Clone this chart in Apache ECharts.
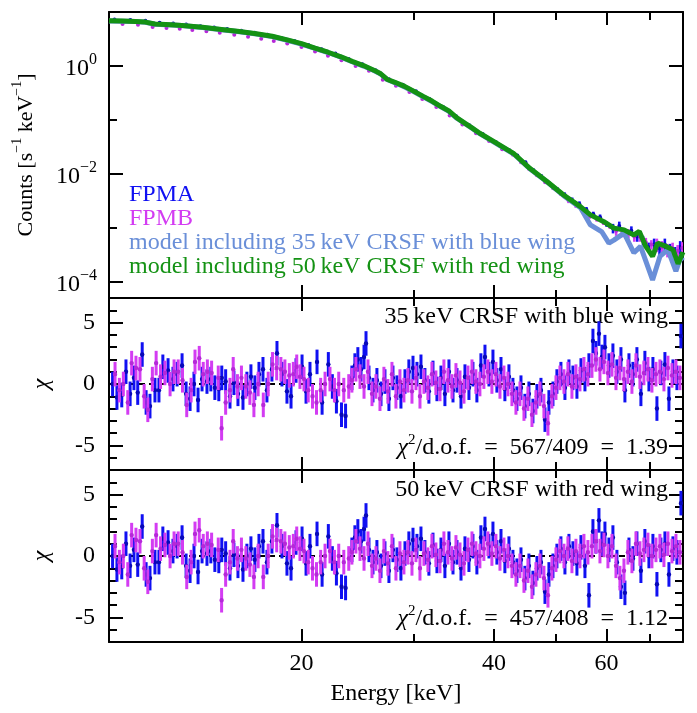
<!DOCTYPE html>
<html><head><meta charset="utf-8">
<script src="https://cdn.jsdelivr.net/npm/echarts@6/dist/echarts.min.js"></script>
<style>html,body{margin:0;padding:0;background:#fff}#c{width:697px;height:713px}</style>
</head><body><div id="c"></div>
<script>
// ---------------- data ----------------
const energyA = [10.13,10.29,10.47,10.63,10.79,10.94,11.09,11.27,11.43,11.59,11.80,11.97,12.14,12.37,12.59,12.78,13.01,13.20,13.39,13.58,13.78,13.98,14.23,14.43,14.64,14.85,15.01,15.22,15.46,15.68,15.91,16.20,16.43,16.67,16.91,17.16,17.41,17.66,17.98,18.31,18.64,18.98,19.26,19.61,20.04,20.33,20.62,21.15,21.54,22.03,22.35,22.68,23.10,23.44,
 23.98,24.24,24.50,24.78,25.05,25.23,25.50,25.87,26.24,26.63,27.01,27.40,27.80,28.20,28.61,29.03,29.44,29.88,30.31,30.75,31.19,31.64,32.11,32.57,33.05,33.52,34.01,34.51,35.01,35.52,36.03,36.55,37.08,37.61,38.16,38.72,39.28,39.85,40.42,41.02,41.60,42.21,42.82,43.44,44.08,44.71,45.36,46.02,46.69,47.37,48.06,48.75,49.46,50.17,50.90,51.64,52.39,53.15,53.92,54.71,55.50,56.30,57.12,57.74,58.37,59.00,59.64,60.51,61.38,62.27,63.18,64.09,65.03,65.97,66.92,67.89,68.87,69.88,70.89,71.92,72.96,74.02,75.10,76.19,77.29,78.41];
const residA35 = [0,-1.1,-0.9,1.0,-0.8,0.5,-0.7,2.4,-1.5,-1.8,-0.5,-0.5,1.4,1.1,0.4,0.8,1.5,-0.8,-1.2,0,-1.3,0.4,0.2,0.4,-0.3,-0.4,0.5,0.2,-1.0,0.1,-0.8,-1.1,0,0.6,-0.3,0.8,1.2,-0.5,1.2,2.5,0.8,-0.6,-1.0,1.1,1.4,-0.6,0.8,1.8,-1.5,1.6,-0.2,-1.4,-2.5,-2.6,
 0.5,1.5,2.0,1.2,2.2,3.3,0.5,-0.5,0.3,-0.8,0.2,-1.2,0.5,-0.3,-1.0,0.2,1.0,1.3,0.8,1.4,0.3,-0.6,0.9,-0.4,0.5,-0.8,1.0,-0.5,0.3,-1.0,0.6,-0.3,0.8,-0.5,1.5,2.2,0.8,1.8,0.3,1.2,-0.4,0.6,-0.5,-1.2,-0.3,-1.8,-0.8,-2.2,-1.0,-0.5,-2.9,-1.5,-0.8,0.2,0.8,-0.3,1.0,0.5,-0.2,1.1,0.4,1.5,3.5,2.5,4.1,2.2,3.0,1.5,2.3,1.0,2.0,-0.5,1.5,0.8,2.0,-0.8,1.7,0.4,1.2,-2.0,0.9,1.6,-1.2,1.0,0.5,3.9];
const residA50 = [0,-1.1,-0.9,1.0,-0.8,0.5,-0.7,2.4,-1.5,-1.8,-0.5,-0.5,1.4,1.1,0.4,0.8,1.5,-0.8,-1.2,0,-1.3,0.4,0.2,0.4,-0.3,-0.4,0.5,0.2,-1.0,0.1,-0.8,-1.1,0,0.6,-0.3,0.8,1.2,-0.5,1.2,2.5,0.8,-0.6,-1.0,1.1,1.4,-0.6,0.8,1.8,-1.5,1.6,-0.2,-1.4,-2.5,-2.6,
 0.5,1.5,2.0,1.2,2.2,3.3,0.5,-0.5,0.3,-0.8,0.2,-1.2,0.5,-0.3,-1.0,0.2,1.0,1.3,0.8,1.4,0.3,-0.6,0.9,-0.4,0.5,-0.8,1.0,-0.5,0.3,-1.0,0.6,-0.3,0.8,-0.5,1.5,2.2,0.8,1.8,0.3,1.2,-0.4,0.6,-0.5,-1.2,-0.3,-1.8,-0.8,-2.2,-1.0,-0.5,-2.9,-1.5,-0.8,0.0,0.6,-0.5,0.8,0.2,-0.6,0.7,-0.8,-3.2,2.0,1.2,2.9,1.0,1.8,0.5,1.5,-0.5,-2.5,-3.0,0.5,-0.2,1.0,-1.2,1.2,0.0,0.8,-2.3,0.5,1.0,-1.5,0.6,0.3,4.3];
const energyB = [10.22,10.38,10.53,10.70,10.85,11.02,11.18,11.35,11.50,11.69,11.85,12.04,12.23,12.46,12.64,12.83,13.03,13.23,13.44,13.63,13.84,14.04,14.25,14.47,14.82,15.00,15.22,15.46,15.64,15.88,16.11,16.37,16.61,16.85,17.11,17.43,17.74,18.02,18.29,18.57,18.84,19.14,19.42,19.66,19.89,20.18,20.49,20.81,21.11,21.43,21.77,22.16,22.52,22.87,23.29,23.71,
 23.98,24.33,24.69,25.05,25.41,25.78,26.15,26.53,26.91,27.30,27.70,28.10,28.51,28.92,29.34,29.77,30.20,30.64,31.08,31.53,31.99,32.45,32.93,33.40,33.89,34.38,34.88,35.39,35.90,36.42,36.95,37.48,38.02,38.57,39.13,39.70,40.28,40.87,41.46,42.06,42.67,43.29,43.92,44.56,45.20,45.86,46.52,47.20,47.88,48.58,49.28,50.00,50.72,51.46,52.20,52.96,53.73,54.51,55.30,56.10,56.92,57.74,58.58,59.43,60.29,61.17,62.06,62.95,63.87,64.79,65.73,66.69,67.65,68.63,69.63,70.64,71.67,72.70,73.76,74.83,75.92,77.02,78.13];
const residB35 = [0.8,-0.5,0,-1.5,1.7,1.3,1.2,-1.0,-2.1,0.4,1.7,0.6,0.9,0,1.0,1.0,0.3,-1.7,-0.5,1.8,2.1,0.8,1.0,0.9,0.5,-3.6,-1.5,-0.5,1.2,-0.2,0.5,-0.2,-0.7,-1.7,0,-1.7,0,1.6,1.3,1.2,1.0,0.7,0.8,1.4,0.6,0.4,-0.5,-1.0,-1.5,-0.5,0,0.4,-0.5,0,-0.5,-0.2,
 0.3,1.2,0.6,-0.2,1.0,-0.8,-0.2,-1.2,0.4,-0.6,0.8,-1.0,0.2,-0.5,0.3,-0.6,0.5,-1.0,0.2,-0.3,0.8,0.1,-0.4,1.0,0.3,-0.2,0.7,0.1,-0.6,0.5,1.0,0.2,0.0,0.6,1.0,0.2,0.8,-0.2,0.5,0.0,-0.8,-1.5,-0.8,-2.0,-1.2,-2.5,-1.5,-0.8,-1.8,-3.2,-1.0,
 -0.3,0.5,0.2,0.8,-0.2,0.6,0.4,1.2,0.8,1.5,2.0,1.2,1.8,0.9,1.6,0.5,1.3,0.4,1.0,0.2,1.5,0.6,0.9,1.2,0.3,0.8,1.0,0.4,1.3,0.7,1.0,0.5];
const residB50 = [0.8,-0.5,0,-1.5,1.7,1.3,1.2,-1.0,-2.1,0.4,1.7,0.6,0.9,0,1.0,1.0,0.3,-1.7,-0.5,1.8,2.1,0.8,1.0,0.9,0.5,-3.6,-1.5,-0.5,1.2,-0.2,0.5,-0.2,-0.7,-1.7,0,-1.7,0,1.6,1.3,1.2,1.0,0.7,0.8,1.4,0.6,0.4,-0.5,-1.0,-1.5,-0.5,0,0.4,-0.5,0,-0.5,-0.2,
 0.3,1.2,0.6,-0.2,1.0,-0.8,-0.2,-1.2,0.4,-0.6,0.8,-1.0,0.2,-0.5,0.3,-0.6,0.5,-1.0,0.2,-0.3,0.8,0.1,-0.4,1.0,0.3,-0.2,0.7,0.1,-0.6,0.5,1.0,0.2,0.0,0.6,1.0,0.2,0.8,-0.2,0.5,0.0,-0.8,-1.5,-0.8,-2.0,-1.2,-2.5,-1.5,-0.8,-1.8,-3.2,-1.0,
 -0.3,0.4,0.0,0.6,-0.4,0.4,0.0,0.8,0.3,0.8,1.2,0.4,0.9,0.0,0.8,-0.8,-1.8,-1.2,0.3,-0.4,1.0,0.2,0.5,0.9,0.0,0.5,0.8,0.1,1.0,0.4,0.8,0.3];

const specEA = [10.2,10.8,11.4,12.0,12.6,13.2,13.9,14.6,15.3,16.1,16.9,17.7,18.6,19.5,20.5,21.5,22.6,23.7,24.9,26.1,27.4,28.8,30.2,31.7,33.3,34.9,36.6,38.4,40.3,42.2,43.5,44.8,46.1,47.4,48.8,50.2,51.6,53.0,54.4,55.8,57.2,58.6,60.0,61.4,62.8,64.2,65.6,67.0,68.4,69.8,71.2,72.6,74.0,75.4,76.8,78.2];
const specA = [7.3,7.1,6.9,6.3,6.1,5.9,5.45,5.15,4.85,4.5,4.15,3.8,3.3,2.9,2.45,2.05,1.7,1.35,1.08,0.84,0.57,0.45,0.34,0.245,0.175,0.118,0.080,0.055,0.039,0.028,0.022,0.0165,0.0118,0.0092,0.0068,0.0053,0.0041,0.0033,0.0028,0.0022,0.0018,0.0016,0.0012,0.0010,0.0011,0.0008,0.0009,0.0007,0.0006,0.00045,0.0005,0.00042,0.0005,0.0004,0.00035,0.00045];
const specErrA = [0.015,0.015,0.015,0.015,0.015,0.015,0.015,0.015,0.015,0.015,0.015,0.015,0.015,0.015,0.025,0.025,0.025,0.025,0.025,0.025,0.025,0.025,0.025,0.04,0.04,0.04,0.04,0.04,0.04,0.07,0.07,0.07,0.07,0.07,0.07,0.07,0.12,0.12,0.12,0.12,0.12,0.12,0.12,0.2,0.2,0.2,0.2,0.2,0.2,0.2,0.28,0.28,0.28,0.28,0.28,0.28];
const specEB = [10.5,11.1,11.7,12.3,12.9,13.5,14.2,14.9,15.7,16.5,17.3,18.1,19.0,20.0,21.0,22.0,23.1,24.3,25.5,26.8,28.1,29.5,30.9,32.5,34.1,35.7,37.5,39.3,41.2,42.8,44.1,45.4,46.7,48.1,49.5,50.9,52.3,53.7,55.1,56.5,57.9,59.3,60.7,62.1,63.5,64.9,66.3,67.7,69.1,70.5,71.9,73.3,74.7,76.1,77.5,78.8];
const specB = [6.0,5.8,5.3,5.05,4.9,4.65,4.4,4.15,3.8,3.5,3.2,2.9,2.6,2.25,1.85,1.55,1.28,1.0,0.82,0.56,0.43,0.33,0.245,0.175,0.122,0.083,0.057,0.041,0.029,0.023,0.0165,0.0125,0.0095,0.0071,0.0055,0.0043,0.0033,0.0027,0.0021,0.0017,0.0015,0.0013,0.0011,0.0009,0.00085,0.0008,0.0007,0.0007,0.00055,0.0005,0.0005,0.00045,0.0004,0.00042,0.00038,0.00043];
const specErrB = [0.02,0.02,0.02,0.02,0.02,0.02,0.02,0.02,0.02,0.02,0.02,0.02,0.02,0.02,0.03,0.03,0.03,0.03,0.03,0.03,0.03,0.03,0.03,0.045,0.045,0.045,0.045,0.045,0.045,0.07,0.07,0.07,0.07,0.07,0.07,0.07,0.12,0.12,0.12,0.12,0.12,0.12,0.12,0.2,0.2,0.2,0.2,0.2,0.2,0.2,0.28,0.28,0.28,0.28,0.28,0.28];

const modelE35 = [10.0,10.5,11.0,11.4,11.8,12.5,13.0,14.0,15.0,16.0,17.0,18.0,19.0,20.0,21.0,22.0,23.0,24.0,25.0,26.0,26.6,27.2,28.0,29.0,30.0,31.0,32.0,33.0,34.0,35.0,36.0,37.0,38.0,40.0,42.9,45.5,48.4,51.4,54.6,56.6,59.0,60.5,61.6,63.9,66.2,67.8,70.8,72.7,74.8,77.0,78.3,79.0];
const model35 = [6.85,6.75,6.65,6.45,5.95,5.75,5.6,5.15,4.7,4.3,3.9,3.5,3.0,2.55,2.12,1.78,1.48,1.2,1.0,0.82,0.71,0.565,0.49,0.41,0.335,0.27,0.22,0.177,0.145,0.108,0.087,0.07,0.056,0.039,0.0238,0.0126,0.0072,0.0040,0.0024,0.00115,0.00085,0.00053,0.0006,0.00081,0.00035,0.00046,0.00011,0.0003,0.0004,0.00016,0.00028,0.00025];
const modelE50 = [10.0,10.5,11.0,11.4,11.8,12.5,13.0,14.0,15.0,16.0,17.0,18.0,19.0,20.0,21.0,22.0,23.0,24.0,25.0,26.0,26.6,27.2,28.0,29.0,30.0,31.0,32.0,33.0,34.0,35.0,36.0,37.0,38.0,40.0,42.9,45.5,48.4,51.4,54.6,56.6,59.4,61.6,63.9,66.2,67.5,69.1,70.8,72.1,74.3,76.2,77.6,79.0];
const model50 = [6.9,6.8,6.7,6.5,6.0,5.8,5.65,5.2,4.75,4.35,3.95,3.55,3.05,2.6,2.15,1.8,1.5,1.22,1.02,0.83,0.72,0.57,0.50,0.42,0.34,0.275,0.225,0.18,0.148,0.11,0.088,0.071,0.057,0.040,0.0243,0.0128,0.0073,0.0041,0.0025,0.00176,0.00132,0.00100,0.00093,0.00075,0.00087,0.00046,0.00030,0.00053,0.00046,0.00040,0.00022,0.00036];

const xMajor = [20, 40, 60];
const xMinor = [30, 50, 70];
const yMajorTop = [1e-4, 1e-2, 1];
const yMinorTop = [1e-3, 1e-1];
const yMajorRes = [-5, 0, 5];
const yMinorRes = [-6, -4, -3, -2, -1, 1, 2, 3, 4, 6];
const legendNames = ['FPMA', 'FPMB', 'model including 35\u2009keV CRSF with blue wing', 'model including 50\u2009keV CRSF with red wing'];
const panelTitles = ['35\u2009keV CRSF with blue wing', '50\u2009keV CRSF with red wing'];
const chi2Texts = ['567/409\u2002=\u20021.39', '457/408\u2002=\u20021.12'];

// ---------------- styling ----------------
const FONT = '"Liberation Serif", "Times New Roman", serif';
const C_A = '#1010f2', C_B = '#d33cf2', C_M35 = '#6a8fd8', C_M50 = '#149214';
const DOT_A = '#0808b8', DOT_B = '#b528d8';
const grids = [
  { left: 109, top: 12, width: 574, height: 286 },
  { left: 109, top: 298, width: 574, height: 172 },
  { left: 109, top: 470, width: 574, height: 172 }
];
const FS = 24;
const lineCol = { color: '#000', width: 2 };

function xAxes(g) {
  const base = { type: 'log', logBase: 10, gridIndex: g, min: 10, max: 79, splitLine: { show: false }, minorTick: { show: false } };
  const isBottom = g === 2;
  return [
    Object.assign({}, base, {
      position: 'bottom',
      axisLine: { show: true, onZero: false, lineStyle: lineCol },
      axisTick: { show: true, inside: true, length: 13, customValues: xMajor, lineStyle: lineCol },
      axisLabel: isBottom ? { show: true, customValues: xMajor, margin: 10, fontFamily: FONT, fontSize: FS, color: '#000' } : { show: false },
      name: isBottom ? 'Energy [keV]' : '',
      nameLocation: 'middle', nameGap: 40,
      nameTextStyle: { fontFamily: FONT, fontSize: FS, color: '#000' }
    }),
    Object.assign({}, base, {
      position: 'bottom', axisLine: { show: false, onZero: false },
      axisTick: { show: true, inside: true, length: 8, customValues: xMinor, lineStyle: lineCol },
      axisLabel: { show: false }
    }),
    Object.assign({}, base, {
      position: 'top', axisLine: { show: true, onZero: false, lineStyle: lineCol },
      axisTick: { show: true, inside: true, length: 13, customValues: xMajor, lineStyle: lineCol },
      axisLabel: { show: false }
    }),
    Object.assign({}, base, {
      position: 'top', axisLine: { show: false, onZero: false },
      axisTick: { show: true, inside: true, length: 8, customValues: xMinor, lineStyle: lineCol },
      axisLabel: { show: false }
    })
  ];
}

const supRich = {
  b: { fontFamily: FONT, fontSize: FS, color: '#000', lineHeight: 29, verticalAlign: 'bottom' },
  s: { fontFamily: FONT, fontSize: 16, color: '#000', lineHeight: 16, verticalAlign: 'top' }
};
function expLabel(v) {
  const e = Math.round(Math.log10(v));
  return '{b|10}{s|' + (e < 0 ? '\u2212' + (-e) : e) + '}';
}

function yAxes(g) {
  const top = g === 0;
  const base = top
    ? { type: 'log', logBase: 10, min: 5.1e-5, max: 10 }
    : { type: 'value', min: -7, max: 7 };
  Object.assign(base, { gridIndex: g, splitLine: { show: false }, minorTick: { show: false } });
  const maj = top ? yMajorTop : yMajorRes;
  const min = top ? yMinorTop : yMinorRes;
  const leftLabel = top
    ? { show: true, customValues: maj, margin: 12, formatter: expLabel, rich: supRich }
    : { show: true, customValues: maj, margin: 14, fontFamily: FONT, fontSize: FS, color: '#000', formatter: v => String(v) };
  const name = top ? '{t|Counts [s}{s|\u22121}{t| keV}{s|\u22121}{t|]}' : '{c|\u03c7}';
  return [
    Object.assign({}, base, {
      position: 'left',
      axisLine: { show: true, onZero: false, lineStyle: lineCol },
      axisTick: { show: true, inside: true, length: 14, customValues: maj, lineStyle: lineCol },
      axisLabel: leftLabel,
      name: name, nameLocation: 'middle', nameGap: top ? 72 : 55, nameRotate: 90,
      nameTextStyle: {
        rich: {
          t: { fontFamily: FONT, fontSize: 22, color: '#000', lineHeight: 27, verticalAlign: 'bottom' },
          s: { fontFamily: FONT, fontSize: 14, color: '#000', lineHeight: 14, verticalAlign: 'top' },
          c: { fontFamily: FONT, fontSize: FS, color: '#000', fontStyle: 'italic' }
        }
      }
    }),
    Object.assign({}, base, {
      position: 'left', axisLine: { show: false, onZero: false },
      axisTick: { show: true, inside: true, length: 8, customValues: min, lineStyle: lineCol },
      axisLabel: { show: false }
    }),
    Object.assign({}, base, {
      position: 'right', axisLine: { show: true, onZero: false, lineStyle: lineCol },
      axisTick: { show: true, inside: true, length: 14, customValues: maj, lineStyle: lineCol },
      axisLabel: { show: false }
    }),
    Object.assign({}, base, {
      position: 'right', axisLine: { show: false, onZero: false },
      axisTick: { show: true, inside: true, length: 8, customValues: min, lineStyle: lineCol },
      axisLabel: { show: false }
    })
  ];
}

function errRender(color, dot, width, r) {
  return function (params, api) {
    const x = api.value(0), y = api.value(1), lo = api.value(2), hi = api.value(3);
    const p = api.coord([x, y]);
    const a = api.coord([x, lo]);
    const b = api.coord([x, hi]);
    return {
      type: 'group',
      children: [
        { type: 'line', shape: { x1: p[0], y1: a[1], x2: p[0], y2: b[1] }, style: { stroke: color, lineWidth: width } },
        { type: 'circle', shape: { cx: p[0], cy: p[1], r: r }, style: { fill: dot } }
      ]
    };
  };
}

function residData(E, R) { return E.map((e, i) => [e, R[i], R[i] - 1, R[i] + 1]); }
function specData(E, V, F) { return E.map((e, i) => [e, V[i], V[i] * (1 - F[i]), V[i] * (1 + F[i])]); }
function pairs(E, V) { return E.map((e, i) => [e, V[i]]); }

const series = [];
series.push({ name: legendNames[0], type: 'custom', xAxisIndex: 0, yAxisIndex: 0, clip: true, renderItem: errRender(C_A, DOT_A, 2.6, 2), data: specData(specEA, specA, specErrA), z: 2 });
series.push({ name: legendNames[1], type: 'custom', xAxisIndex: 0, yAxisIndex: 0, clip: true, renderItem: errRender(C_B, DOT_B, 2.6, 2), data: specData(specEB, specB, specErrB), z: 2 });
series.push({ name: legendNames[2], type: 'line', xAxisIndex: 0, yAxisIndex: 0, clip: true, showSymbol: false, symbol: 'none', data: pairs(modelE35, model35), lineStyle: { color: C_M35, width: 5 }, itemStyle: { color: C_M35 }, z: 3 });
series.push({ name: legendNames[3], type: 'line', xAxisIndex: 0, yAxisIndex: 0, clip: true, showSymbol: false, symbol: 'none', data: pairs(modelE50, model50), lineStyle: { color: C_M50, width: 5 }, itemStyle: { color: C_M50 }, z: 4 });

const residSets = [[residA35, residB35], [residA50, residB50]];
[1, 2].forEach((g, k) => {
  const xi = 4 * g, yi = 4 * g;
  series.push({ type: 'line', xAxisIndex: xi, yAxisIndex: yi, symbol: 'none', silent: true, data: [[10, 0], [79, 0]], lineStyle: { color: '#000', width: 2, type: [6, 4] }, z: 1 });
  series.push({ name: legendNames[0], type: 'custom', xAxisIndex: xi, yAxisIndex: yi, clip: true, renderItem: errRender(C_A, DOT_A, 3, 2.2), data: residData(energyA, residSets[k][0]), z: 2 });
  series.push({ name: legendNames[1], type: 'custom', xAxisIndex: xi, yAxisIndex: yi, clip: true, renderItem: errRender(C_B, DOT_B, 3, 2.2), data: residData(energyB, residSets[k][1]), z: 3 });
});

const chiRich = {
  c: { fontFamily: FONT, fontSize: FS, fontStyle: 'italic', lineHeight: 27, verticalAlign: 'bottom' },
  s: { fontFamily: FONT, fontSize: 15, lineHeight: 15, verticalAlign: 'top' },
  n: { fontFamily: FONT, fontSize: FS, lineHeight: 27, verticalAlign: 'bottom' }
};
const graphic = [];
[[317, 446], [490, 617]].forEach((ys, k) => {
  graphic.push({ type: 'text', x: 668, y: ys[0], silent: true, style: { text: panelTitles[k], fontFamily: FONT, fontSize: FS, fill: '#000', textAlign: 'right', textVerticalAlign: 'middle' } });
  graphic.push({ type: 'text', x: 668, y: ys[1], silent: true, style: { text: '{c|\u03c7}{s|2}{n|/d.o.f.\u2002=\u2002' + chi2Texts[k] + '}', rich: chiRich, fill: '#000', textAlign: 'right', textVerticalAlign: 'middle' } });
});

const option = {
  animation: false,
  backgroundColor: '#fff',
  grid: grids,
  xAxis: [].concat(xAxes(0), xAxes(1), xAxes(2)),
  yAxis: [].concat(yAxes(0), yAxes(1), yAxes(2)),
  legend: {
    orient: 'vertical', left: 124, top: 183, padding: 0, itemGap: 0, itemWidth: 0, itemHeight: 0, icon: 'none',
    selectedMode: false,
    textStyle: { fontFamily: FONT, fontSize: FS, lineHeight: 23 },
    data: [
      { name: legendNames[0], textStyle: { color: C_A } },
      { name: legendNames[1], textStyle: { color: C_B } },
      { name: legendNames[2], textStyle: { color: C_M35 } },
      { name: legendNames[3], textStyle: { color: C_M50 } }
    ]
  },
  graphic: graphic,
  series: series
};
const chart = echarts.init(document.getElementById('c'), null, { renderer: 'canvas' });
chart.setOption(option);
</script></body></html>
